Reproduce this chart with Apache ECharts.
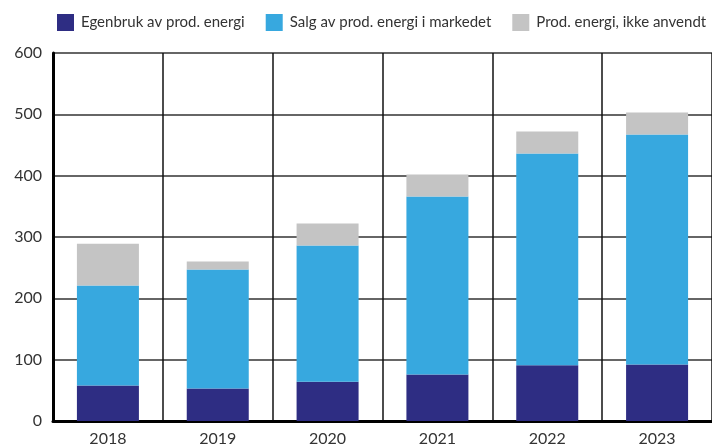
<!DOCTYPE html>
<html>
<head>
<meta charset="utf-8">
<script src="https://cdn.jsdelivr.net/npm/echarts@6/dist/echarts.min.js"></script>
<style>
html, body { margin: 0; padding: 0; background: #fff; }
#chart { width: 712px; height: 447px; }
</style>
</head>
<body>
<div id="chart"></div>
<script>
// data
var years = ['2018', '2019', '2020', '2021', '2022', '2023'];
var egenbruk = [58, 53, 64, 76, 91, 92];
var salg = [163, 194, 222, 290, 345, 375];
var ikkeAnvendt = [68, 13, 36, 36, 36, 36];
var yTicks = [0, 100, 200, 300, 400, 500, 600];

var chartDom = document.getElementById('chart');
var myChart = echarts.init(chartDom, null, { renderer: 'canvas' });

var font = 'Lato, "Open Sans", sans-serif';

var option = {
  animation: false,
  backgroundColor: '#fff',
  legend: {
    left: 57,
    top: 14,
    width: 680,
    padding: 0,
    itemWidth: 17,
    itemHeight: 17,
    itemGap: 21,
    icon: 'rect',
    textStyle: { fontFamily: font, fontSize: 15, color: '#333', padding: [0, 0, 0, 2] },
    data: ['Egenbruk av prod. energi', 'Salg av prod. energi i markedet', 'Prod. energi, ikke anvendt']
  },
  grid: {
    left: 53,
    top: 53,
    width: 660,
    bottom: 26
  },
  xAxis: {
    type: 'category',
    data: years,
    axisLine: { lineStyle: { color: '#000', width: 3 } },
    axisTick: { show: false },
    axisLabel: { fontFamily: font, fontSize: 16, color: '#333', margin: 10 },
    splitLine: { show: true, lineStyle: { color: '#111', width: 1.5 } }
  },
  yAxis: {
    type: 'value',
    min: yTicks[0],
    max: yTicks[yTicks.length - 1],
    interval: 100,
    axisLine: { show: true, lineStyle: { color: '#000', width: 3 } },
    axisTick: { show: false },
    axisLabel: { fontFamily: font, fontSize: 16, color: '#333', margin: 11 },
    splitLine: { lineStyle: { color: '#333', width: 1.5 } }
  },
  series: [
    {
      name: 'Egenbruk av prod. energi',
      type: 'bar',
      stack: 'total',
      barWidth: 62,
      itemStyle: { color: '#2e2d83' },
      data: egenbruk
    },
    {
      name: 'Salg av prod. energi i markedet',
      type: 'bar',
      stack: 'total',
      barWidth: 62,
      itemStyle: { color: '#37a8df' },
      data: salg
    },
    {
      name: 'Prod. energi, ikke anvendt',
      type: 'bar',
      stack: 'total',
      barWidth: 62,
      itemStyle: { color: '#c4c4c4' },
      data: ikkeAnvendt
    }
  ]
};

myChart.setOption(option);
window.addEventListener('resize', myChart.resize);
</script>
</body>
</html>
